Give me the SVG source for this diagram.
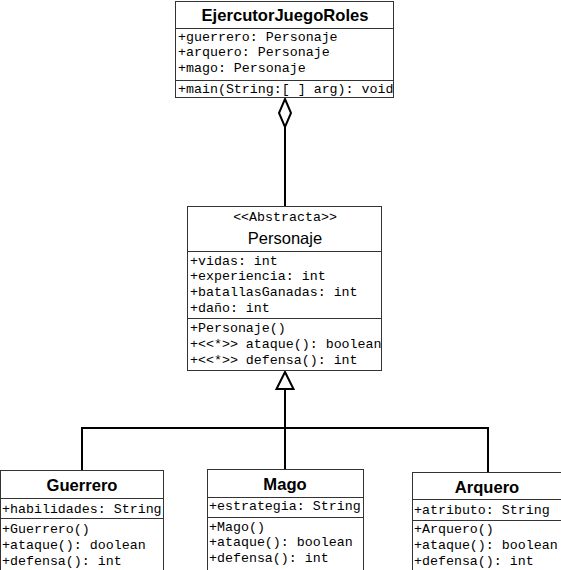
<svg xmlns="http://www.w3.org/2000/svg" width="561" height="570" viewBox="0 0 561 570">
<style>
.box{fill:#fff;stroke:#333;stroke-width:1}
.div{stroke:#333;stroke-width:1}
.t{font-family:"Liberation Sans",Arial,sans-serif;font-size:16.6px;font-weight:bold;text-anchor:middle;fill:#000}
.tn{font-family:"Liberation Sans",Arial,sans-serif;font-size:16.5px;text-anchor:middle;fill:#000}
.m{font-family:"Liberation Mono","Courier New",monospace;font-size:13.3px;fill:#000}
.st{font-family:"Liberation Mono","Courier New",monospace;font-size:13.3px;text-anchor:middle;fill:#000}
.c{fill:none;stroke:#000;stroke-width:2}
</style>
<rect width="561" height="570" fill="#fff"/>
<g id="connectors">
<polygon class="c" points="285,99 291,113 285,127 279,113" fill="#fff"/>
<line class="c" x1="285" y1="127" x2="285" y2="206"/>
<polygon class="c" points="285,372 293.5,389 276.5,389" fill="#fff"/>
<line class="c" x1="285" y1="389" x2="285" y2="469"/>
<polyline class="c" points="82,470 82,428 488,428 488,472"/>
</g>
<g id="EjercutorJuegoRoles">
<rect class="box" x="175.5" y="1.5" width="218" height="96"/>
<line class="div" x1="175.5" y1="28.5" x2="393.5" y2="28.5"/>
<line class="div" x1="175.5" y1="80.5" x2="393.5" y2="80.5"/>
<text class="t" x="285" y="21">EjercutorJuegoRoles</text>
<text class="m" x="178" y="41">+guerrero: Personaje</text>
<text class="m" x="178" y="56">+arquero: Personaje</text>
<text class="m" x="178" y="72">+mago: Personaje</text>
<text class="m" x="178" y="93">+main(String:[ ] arg): void</text>
</g>
<g id="Personaje">
<rect class="box" x="187.5" y="206.5" width="194" height="164"/>
<line class="div" x1="187.5" y1="251.5" x2="381.5" y2="251.5"/>
<line class="div" x1="187.5" y1="318.5" x2="381.5" y2="318.5"/>
<text class="st" x="285" y="221">&lt;&lt;Abstracta&gt;&gt;</text>
<text class="tn" x="285" y="244">Personaje</text>
<text class="m" x="190" y="265">+vidas: int</text>
<text class="m" x="190" y="280">+experiencia: int</text>
<text class="m" x="190" y="296">+batallasGanadas: int</text>
<text class="m" x="190" y="312">+daño: int</text>
<text class="m" x="190" y="332">+Personaje()</text>
<text class="m" x="190" y="348">+&lt;&lt;*&gt;&gt; ataque(): boolean</text>
<text class="m" x="190" y="364">+&lt;&lt;*&gt;&gt; defensa(): int</text>
</g>
<g id="Guerrero">
<rect class="box" x="0.5" y="470.5" width="163" height="110"/>
<line class="div" x1="0.5" y1="498.5" x2="163.5" y2="498.5"/>
<line class="div" x1="0.5" y1="518.5" x2="163.5" y2="518.5"/>
<text class="t" x="82" y="491">Guerrero</text>
<text class="m" x="2" y="513">+habilidades: String</text>
<text class="m" x="2" y="533">+Guerrero()</text>
<text class="m" x="2" y="549">+ataque(): doolean</text>
<text class="m" x="2" y="565">+defensa(): int</text>
</g>
<g id="Mago">
<rect class="box" x="207.5" y="469.5" width="156" height="110"/>
<line class="div" x1="207.5" y1="497.5" x2="363.5" y2="497.5"/>
<line class="div" x1="207.5" y1="517.5" x2="363.5" y2="517.5"/>
<text class="t" x="285" y="490">Mago</text>
<text class="m" x="209" y="510">+estrategia: String</text>
<text class="m" x="209" y="531">+Mago()</text>
<text class="m" x="209" y="546">+ataque(): boolean</text>
<text class="m" x="209" y="562">+defensa(): int</text>
</g>
<g id="Arquero">
<rect class="box" x="412.5" y="472.5" width="152" height="110"/>
<line class="div" x1="412.5" y1="499.5" x2="564.5" y2="499.5"/>
<line class="div" x1="412.5" y1="520.5" x2="564.5" y2="520.5"/>
<text class="t" x="487" y="493">Arquero</text>
<text class="m" x="414" y="514">+atributo: String</text>
<text class="m" x="414" y="533">+Arquero()</text>
<text class="m" x="414" y="549">+ataque(): boolean</text>
<text class="m" x="414" y="565">+defensa(): int</text>
</g>
</svg>
